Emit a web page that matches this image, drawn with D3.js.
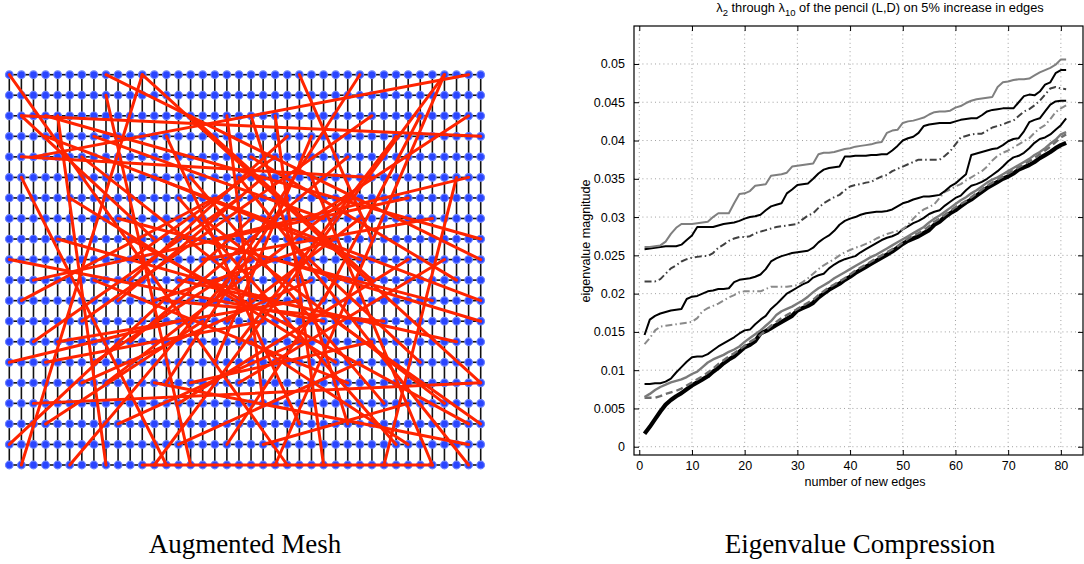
<!DOCTYPE html>
<html>
<head>
<meta charset="utf-8">
<script src="https://cdn.jsdelivr.net/npm/d3@7"></script>
<style>
  body { margin: 0; background: #fff; }
  svg { display: block; }
  .tick text { font-family: "Liberation Sans", Arial, Helvetica, sans-serif; }
</style>
</head>
<body>
<div id="chart"></div>
<script>
// mesh size (rows x cols of the grid graph)
var meshRows = 20, meshCols = 40;

// random edges added to the mesh: [col1, row1, col2, row2]
var newEdges = [
  [0,0,23,19], [8,0,39,9], [11,0,1,19], [11,0,39,15], [8,1,15,19], [1,2,39,3],
  [1,2,12,8], [3,2,39,8], [4,2,8,19], [3,3,39,11], [1,5,13,19], [1,4,30,5],
  [38,0,2,4], [36,0,12,19], [36,0,22,19],
  [39,15,2,16], [38,17,10,8], [38,19,19,5], [38,18,12,15], [35,19,25,5],
  [31,19,37,5], [26,19,22,2], [32,18,14,6], [36,16,16,7], [11,19,35,19],
  [0,18,20,7], [0,9,26,12], [2,10,33,6], [5,6,27,14], [6,12,30,2], [9,7,35,11],
  [10,13,28,4], [13,3,24,17], [14,10,37,13], [15,5,31,16], [16,12,3,17], [17,8,38,5],
  [18,2,21,16], [19,10,6,4], [20,13,33,18], [21,5,9,11], [22,9,39,12], [23,6,13,15],
  [24,11,4,13], [25,3,17,14], [27,8,12,11], [28,15,7,10], [29,7,18,12], [30,10,15,2],
  [32,3,19,13], [33,9,14,16], [34,14,23,8], [37,10,20,4], [6,15,25,10], [12,5,29,9],
  [4,8,22,11], [7,3,26,7], [16,9,35,7], [20,2,28,17], [9,17,24,13], [2,13,19,6],
  [13,11,31,12], [27,12,39,17], [5,19,18,10], [29,0,17,11], [24,0,30,8], [3,14,21,12],
  [15,15,30,13], [18,18,27,10], [22,4,10,9], [0,14,14,12], [34,2,26,11], [10,10,23,3],
  [19,15,36,9], [28,6,8,15], [14,18,29,14], [1,11,17,6], [33,16,21,18], [25,7,38,2],
  [7,14,20,9]
];

// eigenvalue chart: x = number of new edges
var newEdgeCount = d3.range(1, 82);
var xTicks = [0, 10, 20, 30, 40, 50, 60, 70, 80];
var yTicks = [0, 0.005, 0.01, 0.015, 0.02, 0.025, 0.03, 0.035, 0.04, 0.045, 0.05];

var lambda10 = [.0261,.0261,.0262,.0263,.0268,.0278,.0286,.0291,.0291,.0291,.0292,.0293,.0294,.0300,.0305,.0305,.0305,.0318,.0330,.0331,
  .0334,.0341,.0342,.0343,.0354,.0355,.0356,.0358,.0366,.0367,.0368,.0369,.0370,.0382,.0384,.0384,.0385,.0387,.0389,.0390,
  .0392,.0393,.0394,.0395,.0397,.0398,.0410,.0413,.0414,.0423,.0425,.0426,.0428,.0430,.0434,.0437,.0438,.0438,.0439,.0443,
  .0445,.0449,.0452,.0454,.0455,.0456,.0457,.0470,.0476,.0477,.0479,.0480,.0480,.0481,.0485,.0489,.0492,.0495,.0499,.0506,.0506];
var lambda9 = [.0258,.0259,.0260,.0261,.0262,.0262,.0262,.0264,.0270,.0276,.0287,.0287,.0287,.0287,.0289,.0291,.0292,.0293,.0295,.0298,
  .0300,.0301,.0303,.0309,.0314,.0316,.0318,.0331,.0336,.0342,.0343,.0344,.0350,.0357,.0362,.0364,.0365,.0366,.0379,.0379,
  .0380,.0380,.0380,.0381,.0381,.0382,.0382,.0387,.0393,.0400,.0403,.0405,.0410,.0419,.0421,.0422,.0423,.0423,.0423,.0425,
  .0427,.0428,.0429,.0429,.0433,.0438,.0440,.0441,.0442,.0442,.0442,.0450,.0458,.0460,.0459,.0464,.0473,.0476,.0488,.0492,.0492];
var lambda8 = [.0216,.0216,.0216,.0219,.0226,.0233,.0237,.0242,.0245,.0247,.0248,.0249,.0249,.0253,.0260,.0264,.0269,.0272,.0274,.0274,
  .0275,.0279,.0281,.0283,.0285,.0287,.0288,.0289,.0290,.0291,.0297,.0302,.0305,.0312,.0318,.0322,.0326,.0329,.0335,.0340,
  .0342,.0343,.0345,.0346,.0350,.0353,.0355,.0360,.0363,.0366,.0369,.0372,.0375,.0375,.0375,.0375,.0375,.0380,.0386,.0395,
  .0404,.0406,.0408,.0409,.0409,.0413,.0417,.0419,.0421,.0424,.0426,.0432,.0438,.0441,.0446,.0452,.0460,.0468,.0470,.0468,.0467];
var lambda7 = [.0146,.0166,.0171,.0174,.0176,.0178,.0179,.0180,.0193,.0196,.0197,.0200,.0203,.0204,.0206,.0206,.0207,.0215,.0218,.0219,
  .0220,.0222,.0225,.0232,.0242,.0246,.0249,.0251,.0253,.0254,.0255,.0256,.0260,.0267,.0272,.0276,.0282,.0290,.0295,.0298,
  .0300,.0303,.0305,.0306,.0307,.0307,.0308,.0310,.0314,.0318,.0320,.0323,.0325,.0327,.0327,.0328,.0329,.0334,.0340,.0344,
  .0350,.0356,.0381,.0383,.0385,.0387,.0389,.0390,.0394,.0399,.0402,.0403,.0412,.0424,.0427,.0429,.0438,.0447,.0451,.0452,.0452];
var lambda6 = [.0134,.0142,.0152,.0157,.0158,.0159,.0160,.0161,.0162,.0163,.0168,.0177,.0181,.0184,.0187,.0191,.0195,.0198,.0202,.0203,
  .0203,.0203,.0203,.0206,.0209,.0209,.0209,.0209,.0210,.0211,.0215,.0220,.0226,.0232,.0237,.0241,.0245,.0250,.0254,.0257,
  .0260,.0262,.0265,.0268,.0272,.0275,.0278,.0280,.0282,.0284,.0290,.0298,.0305,.0310,.0313,.0317,.0325,.0333,.0336,.0340,
  .0343,.0348,.0352,.0356,.0360,.0366,.0374,.0380,.0384,.0387,.0391,.0395,.0399,.0403,.0410,.0416,.0420,.0428,.0437,.0442,.0446];
var lambda5 = [.0082,.0082,.0083,.0083,.0085,.0089,.0097,.0104,.0111,.0117,.0118,.0118,.0121,.0126,.0131,.0135,.0139,.0143,.0148,.0152,
  .0153,.0160,.0166,.0171,.0180,.0186,.0193,.0200,.0204,.0208,.0212,.0215,.0221,.0224,.0226,.0233,.0238,.0242,.0245,.0247,
  .0249,.0254,.0258,.0262,.0266,.0270,.0273,.0275,.0278,.0284,.0288,.0292,.0295,.0299,.0304,.0307,.0309,.0315,.0320,.0325,
  .0328,.0335,.0341,.0343,.0346,.0350,.0355,.0360,.0366,.0373,.0378,.0380,.0384,.0390,.0397,.0402,.0404,.0408,.0414,.0420,.0429];
var lambda4 = [.0065,.0069,.0074,.0078,.0081,.0084,.0086,.0088,.0091,.0095,.0098,.0104,.0110,.0114,.0117,.0120,.0124,.0127,.0131,.0137,
  .0142,.0147,.0152,.0158,.0164,.0172,.0177,.0180,.0183,.0187,.0191,.0196,.0202,.0207,.0211,.0215,.0220,.0224,.0228,.0232,
  .0236,.0240,.0244,.0248,.0251,.0255,.0259,.0263,.0267,.0271,.0275,.0279,.0283,.0287,.0293,.0298,.0302,.0307,.0312,.0317,
  .0322,.0326,.0331,.0335,.0340,.0345,.0349,.0352,.0356,.0360,.0364,.0368,.0372,.0376,.0381,.0385,.0390,.0396,.0401,.0408,.0411];
var lambda3 = [.0064,.0064,.0064,.0066,.0069,.0071,.0073,.0076,.0080,.0084,.0088,.0092,.0097,.0102,.0108,.0113,.0118,.0122,.0127,.0132,
  .0137,.0141,.0146,.0152,.0158,.0163,.0168,.0172,.0176,.0180,.0184,.0188,.0192,.0198,.0203,.0208,.0212,.0216,.0220,.0225,
  .0230,.0234,.0238,.0242,.0246,.0250,.0254,.0258,.0262,.0267,.0272,.0276,.0279,.0283,.0288,.0294,.0298,.0303,.0308,.0313,
  .0317,.0321,.0326,.0331,.0336,.0341,.0345,.0349,.0353,.0357,.0361,.0365,.0369,.0373,.0377,.0382,.0387,.0392,.0398,.0404,.0408];
var lambda2 = [.0017,.0026,.0036,.0046,.0055,.0061,.0066,.0070,.0075,.0080,.0084,.0088,.0092,.0098,.0103,.0109,.0114,.0118,.0124,.0130,
  .0133,.0138,.0148,.0151,.0155,.0159,.0163,.0167,.0171,.0178,.0181,.0184,.0188,.0195,.0200,.0205,.0209,.0213,.0218,.0222,
  .0227,.0231,.0235,.0239,.0243,.0247,.0251,.0255,.0260,.0265,.0269,.0272,.0275,.0279,.0283,.0290,.0294,.0300,.0305,.0309,
  .0314,.0319,.0323,.0328,.0333,.0338,.0342,.0346,.0350,.0353,.0357,.0362,.0365,.0368,.0372,.0377,.0381,.0385,.0390,.0394,.0397];

// drawing order and look of each eigenvalue curve
var series = [
  {values: lambda2,  color: "#000000", width: 4.2, dash: null},
  {values: lambda3,  color: "#6e6e6e", width: 2.4, dash: "7,4"},
  {values: lambda4,  color: "#7a7a7a", width: 2.4, dash: null},
  {values: lambda5,  color: "#000000", width: 2,   dash: null},
  {values: lambda6,  color: "#8a8a8a", width: 2,   dash: "7,3,1.5,3"},
  {values: lambda7,  color: "#000000", width: 2,   dash: null},
  {values: lambda8,  color: "#404040", width: 2,   dash: "7,3,1.5,3"},
  {values: lambda9,  color: "#000000", width: 2,   dash: null},
  {values: lambda10, color: "#7f7f7f", width: 2,   dash: null}
];

var fontSans = '"Liberation Sans", Arial, Helvetica, sans-serif';
var fontSerif = '"Liberation Serif", "Times New Roman", serif';

var svg = d3.select("#chart").append("svg")
  .attr("width", 1084)
  .attr("height", 564);

// ---------- left panel : augmented mesh ----------
var mx = d3.scaleLinear().domain([0, meshCols - 1]).range([9.3, 480.7]);
var my = d3.scaleLinear().domain([0, meshRows - 1]).range([74.7, 465]);

var mesh = svg.append("g").attr("class", "mesh");

var gridEdges = [];
d3.range(meshRows).forEach(function(r) {
  d3.range(meshCols).forEach(function(c) {
    if (c < meshCols - 1) gridEdges.push([c, r, c + 1, r]);
    if (r < meshRows - 1) gridEdges.push([c, r, c, r + 1]);
  });
});

mesh.append("g").selectAll("line").data(gridEdges)
  .enter().append("line")
  .attr("x1", function(d) { return mx(d[0]); })
  .attr("y1", function(d) { return my(d[1]); })
  .attr("x2", function(d) { return mx(d[2]); })
  .attr("y2", function(d) { return my(d[3]); })
  .attr("stroke", "#111")
  .attr("stroke-width", 1.6);

var nodes = [];
d3.range(meshRows).forEach(function(r) {
  d3.range(meshCols).forEach(function(c) { nodes.push([c, r]); });
});

mesh.append("g").selectAll("circle").data(nodes)
  .enter().append("circle")
  .attr("cx", function(d) { return mx(d[0]); })
  .attr("cy", function(d) { return my(d[1]); })
  .attr("r", 3.8)
  .attr("fill", "#2a45ff")
  .attr("stroke", "#6a80ff")
  .attr("stroke-width", 1.2);

mesh.append("g").selectAll("line").data(newEdges)
  .enter().append("line")
  .attr("x1", function(d) { return mx(d[0]); })
  .attr("y1", function(d) { return my(d[1]); })
  .attr("x2", function(d) { return mx(d[2]); })
  .attr("y2", function(d) { return my(d[3]); })
  .attr("stroke", "#ff2400")
  .attr("stroke-width", 3)
  .attr("stroke-linecap", "round");

// ---------- right panel : eigenvalue compression ----------
// (plot box edges; "top" is taken by window.top so use other names)
var plotL = 634, plotR = 1083, plotT = 26, plotB = 455;
var x = d3.scaleLinear().domain([-1, 84.2]).range([plotL, plotR]);
var y = d3.scaleLinear().domain([-0.00108, 0.05496]).range([plotB, plotT]);

var plot = svg.append("g").attr("class", "plot");

// dotted grid
plot.append("g").selectAll("line").data(xTicks)
  .enter().append("line")
  .attr("x1", function(d) { return x(d); }).attr("x2", function(d) { return x(d); })
  .attr("y1", plotT).attr("y2", plotB)
  .attr("stroke", "#888").attr("stroke-width", 0.8)
  .attr("stroke-dasharray", "1,3.2");
plot.append("g").selectAll("line").data(yTicks)
  .enter().append("line")
  .attr("y1", function(d) { return y(d); }).attr("y2", function(d) { return y(d); })
  .attr("x1", plotL).attr("x2", plotR)
  .attr("stroke", "#888").attr("stroke-width", 0.8)
  .attr("stroke-dasharray", "1,3.2");

var line = d3.line()
  .x(function(d, i) { return x(newEdgeCount[i]); })
  .y(function(d) { return y(d); });

plot.append("g").selectAll("path").data(series)
  .enter().append("path")
  .attr("d", function(s) { return line(s.values); })
  .attr("fill", "none")
  .attr("stroke", function(s) { return s.color; })
  .attr("stroke-width", function(s) { return s.width; })
  .attr("stroke-dasharray", function(s) { return s.dash; })
  .attr("stroke-linejoin", "round");

// axes, ticks inside on all four sides
var xAxis = d3.axisBottom(x).tickValues(xTicks).tickSizeInner(-5).tickSizeOuter(0).tickPadding(6);
var yAxis = d3.axisLeft(y).tickValues(yTicks).tickSizeInner(-5).tickSizeOuter(0).tickPadding(9)
  .tickFormat(function(d) { return d === 0 ? "0" : String(+d.toFixed(3)); });

plot.append("g").attr("transform", "translate(0," + plotB + ")").call(xAxis);
plot.append("g").attr("transform", "translate(" + plotL + ",0)").call(yAxis);
plot.append("g").attr("transform", "translate(0," + plotT + ")")
  .call(d3.axisTop(x).tickValues(xTicks).tickSizeInner(-5).tickSizeOuter(0).tickFormat(""));
plot.append("g").attr("transform", "translate(" + plotR + ",0)")
  .call(d3.axisRight(y).tickValues(yTicks).tickSizeInner(-5).tickSizeOuter(0).tickFormat(""));

plot.selectAll(".domain").remove();
plot.selectAll(".tick line").attr("stroke", "#000").attr("stroke-width", 1);
plot.selectAll(".tick text").attr("font-size", 12.5).attr("fill", "#000");

plot.append("rect")
  .attr("x", plotL).attr("y", plotT)
  .attr("width", plotR - plotL).attr("height", plotB - plotT)
  .attr("fill", "none").attr("stroke", "#000").attr("stroke-width", 1.2);

// labels
plot.append("text")
  .attr("x", 865).attr("y", 486)
  .attr("text-anchor", "middle")
  .attr("font-family", fontSans).attr("font-size", 12.6)
  .text("number of new edges");

plot.append("text")
  .attr("transform", "translate(590,241) rotate(-90)")
  .attr("text-anchor", "middle")
  .attr("font-family", fontSans).attr("font-size", 12.6)
  .text("eigenvalue magnitude");

var title = plot.append("text")
  .attr("x", 880).attr("y", 12)
  .attr("text-anchor", "middle")
  .attr("font-family", fontSans).attr("font-size", 12.8);
title.append("tspan").text("\u03bb");
title.append("tspan").attr("dy", 4).attr("font-size", 9.5).text("2");
title.append("tspan").attr("dy", -4).text(" through \u03bb");
title.append("tspan").attr("dy", 4).attr("font-size", 9.5).text("10");
title.append("tspan").attr("dy", -4).text(" of the pencil (L,D) on 5% increase in edges");

// captions under the panels
svg.append("text")
  .attr("x", 245).attr("y", 553)
  .attr("text-anchor", "middle")
  .attr("font-family", fontSerif).attr("font-size", 27)
  .text("Augmented Mesh");
svg.append("text")
  .attr("x", 860).attr("y", 553)
  .attr("text-anchor", "middle")
  .attr("font-family", fontSerif).attr("font-size", 27)
  .text("Eigenvalue Compression");
</script>
</body>
</html>
